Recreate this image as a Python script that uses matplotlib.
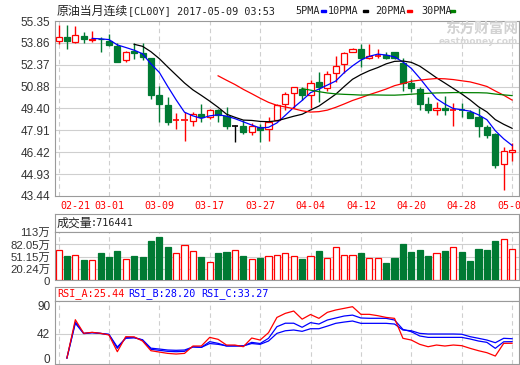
import numpy as np
import pandas as pd
import matplotlib
matplotlib.use('Agg')
from matplotlib import pyplot as plt
from matplotlib.patches import Rectangle

W, H = 520, 365

# daily candles, 2017-02-21 .. 2017-05-08
opens = [53.97, 54.24, 53.94, 54.33, 54.03, 54.15, 54.01, 53.67, 52.68, 53.28,
         53.16, 52.86, 50.28, 49.65, 48.58, 48.62, 48.56, 49.04, 48.85, 49.31,
         48.90, 48.17, 48.22, 47.82, 48.13, 48.00, 48.58, 49.72, 50.44, 50.73,
         50.28, 51.19, 50.82, 51.80, 52.43, 53.22, 53.45, 52.86, 52.97, 53.04,
         53.22, 52.48, 51.12, 50.71, 49.72, 49.26, 49.42, 49.29, 49.32, 49.19,
         48.81, 48.13, 47.68, 45.62, 46.44]
highs = [55.08, 55.08, 55.01, 54.62, 54.67, 54.28, 54.45, 53.84, 53.31, 53.84,
         53.88, 52.86, 50.94, 50.21, 49.08, 49.19, 49.13, 49.72, 49.36, 49.38,
         49.49, 48.29, 48.63, 48.40, 48.34, 48.81, 49.72, 50.55, 50.89, 50.89,
         51.34, 51.87, 51.96, 52.97, 53.27, 53.50, 53.79, 53.79, 53.45, 53.27,
         53.27, 52.82, 51.39, 50.85, 50.21, 49.87, 50.26, 49.76, 49.80, 49.31,
         49.42, 48.29, 47.73, 46.75, 47.05]
lows = [53.77, 53.43, 53.88, 53.84, 53.90, 53.22, 53.67, 52.58, 52.59, 52.75,
        52.70, 50.05, 48.51, 48.29, 48.00, 47.16, 48.22, 48.51, 48.68, 48.51,
        48.00, 47.09, 47.68, 47.61, 47.14, 47.16, 48.55, 49.30, 49.42, 49.99,
        49.46, 49.87, 50.60, 51.19, 51.80, 53.22, 52.25, 52.77, 52.82, 52.75,
        52.77, 50.60, 50.55, 49.26, 49.08, 48.92, 48.97, 48.22, 48.85, 48.74,
        47.43, 47.39, 45.35, 43.83, 45.80]
closes = [54.24, 53.97, 54.40, 54.11, 54.10, 54.10, 53.72, 52.59, 53.23, 53.18,
          52.88, 50.28, 49.69, 48.45, 48.62, 48.66, 49.04, 48.85, 49.31, 48.97,
          48.22, 48.17, 47.77, 48.22, 47.95, 48.47, 49.65, 50.37, 50.89, 50.33,
          51.12, 50.87, 51.73, 52.27, 53.16, 53.45, 52.86, 53.00, 53.00, 52.86,
          52.82, 51.12, 50.82, 49.70, 49.26, 49.42, 49.26, 49.32, 49.28, 48.78,
          48.17, 47.61, 45.57, 46.52, 46.54]

# volume in 万
volumes = [68.2, 53.9, 56.3, 44.3, 44.3, 61.0, 51.5, 66.6, 46.7, 53.9,
           49.9, 90.6, 101.8, 75.4, 60.3, 81.8, 65.8, 51.5, 38.7, 61.0,
           63.4, 68.2, 53.9, 46.7, 49.1, 53.1, 56.3, 60.3, 53.1, 46.7,
           53.1, 65.8, 48.3, 74.6, 55.5, 55.5, 61.0, 48.3, 48.3, 37.1,
           49.1, 82.6, 63.4, 68.2, 53.9, 60.3, 65.8, 74.6, 63.4, 41.9,
           70.6, 68.2, 89.8, 96.2, 71.64]

# RSI from the 2nd candle on
rsi_a = [0, 66, 42.6, 44.3, 42.6, 39.7, 10.9, 36.8, 36.5, 29.3,
         12.6, 10.3, 8.0, 6.9, 8.0, 20.7, 20.7, 35.6, 32.2, 22.4,
         22.4, 19.5, 34.5, 31, 43.7, 70, 77, 81, 67, 75,
         68.4, 78.7, 82.8, 85.6, 88.5, 75.3, 75.3, 73, 70, 68.4,
         34, 31, 23.6, 19.5, 22.4, 20.7, 22.4, 21.3, 16.7, 12.6,
         9.2, 3.4, 25.3, 25.44]
rsi_b = [0, 62, 42.6, 44, 42.6, 40.5, 16.7, 35, 35.5, 31,
         15, 13.3, 11.5, 10.9, 11.5, 19.5, 18.4, 28.2, 25.3, 20.7,
         20.7, 20.7, 27, 25, 34, 54, 60, 60, 53, 61,
         58.6, 65.5, 69, 72.4, 74, 69, 68.5, 68.5, 68.4, 65.5,
         49.4, 45.4, 38, 35.6, 35.6, 35.6, 35.6, 35.6, 32.8, 29.3,
         27, 16.7, 28, 28.20]
rsi_c = [0, 60, 42, 43.5, 42.3, 40.8, 19, 34, 34.8, 31.5,
         17, 15.5, 13.8, 13.3, 13.8, 19, 18.4, 25, 23.6, 21,
         21, 21, 25, 23.6, 29.3, 42.5, 47, 48.3, 46, 50.5,
         50.5, 55, 59.8, 62, 63.8, 59.8, 59.8, 59.8, 59.8, 58.6,
         48.3, 47, 42.5, 41.4, 41.4, 41.4, 41.4, 41, 36.8, 34,
         31, 26.4, 34, 33.27]

date_idx = [0, 6, 12, 18, 24, 30, 36, 42, 48, 54]
date_labels = ['02-21', '03-01', '03-09', '03-17', '03-27',
               '04-04', '04-12', '04-20', '04-28', '05-08']
price_ticks = [55.35, 53.86, 52.37, 50.88, 49.40, 47.91, 46.42, 44.93, 43.44]
vol_ticks = [0, 20.24, 51.15, 82.05, 113]
vol_labels = ['0', '20.24万', '51.15万', '82.05万', '113万']
rsi_ticks = [0, 42, 90]

RED = '#ff0000'
GREEN = '#007a33'
BLUE = '#0000ff'
GRID = '#cfcfcf'
SPINE = '#9a9a9a'
TXT = '#333333'
LABEL_FONT = ['Liberation Sans', 'Noto Sans CJK SC']
MONO = 'DejaVu Sans Mono'
CJK = 'Noto Sans CJK SC'

n = len(closes)
x = np.arange(n)
XL = (-0.42, 54.82)
BW = 0.72
VMIN = -5

fig = plt.figure(figsize=(W / 100, H / 100), dpi=100)
fig.patch.set_facecolor('white')


def box(l, t, r, b):
    return [l / W, 1 - b / H, (r - l) / W, (b - t) / H]


def ftext(px, py, s, **kw):
    kw.setdefault('va', 'center')
    kw.setdefault('ha', 'left')
    fig.text(px / W, 1 - py / H, s, **kw)


def dash(px, py, color):
    fig.patches.append(Rectangle((px / W, 1 - (py + 1) / H), 5 / W, 2 / H,
                                 transform=fig.transFigure, color=color))


def frame(ax):
    for s in ax.spines.values():
        s.set_color(SPINE)
        s.set_linewidth(0.8)
    ax.set_xlim(*XL)
    ax.tick_params(length=0, labelsize=8.5, colors=TXT)
    ax.set_xticks([])
    for d in date_idx:
        ax.axvline(d, color=GRID, lw=0.8, ls=(0, (4, 3)), zorder=0)


# ---- price panel
ax = fig.add_axes(box(55, 21, 519, 196))
frame(ax)
ax.set_ylim(43.44, 55.35)
ax.set_yticks(price_ticks)
ax.set_yticklabels([f'{v:.2f}' for v in price_ticks], family=LABEL_FONT)
for v in price_ticks[1:-1]:
    ax.axhline(v, color=GRID, lw=0.8, zorder=0)

for i in range(n):
    o, h, l, c = opens[i], highs[i], lows[i], closes[i]
    if c > o:
        col = RED
    elif c < o:
        col = GREEN
    else:
        col = 'black'
    top, bot = max(o, c), min(o, c)
    ax.vlines(i, top, h, color=col, lw=1, zorder=3)
    ax.vlines(i, l, bot, color=col, lw=1, zorder=3)
    if top - bot < 0.04:
        ax.hlines(o, i - BW / 2, i + BW / 2, color=col, lw=1.2, zorder=3)
    else:
        face = 'white' if c > o else col
        ax.add_patch(Rectangle((i - BW / 2, bot), BW, top - bot, facecolor=face,
                               edgecolor=col, lw=0.9, zorder=3))

cs = pd.Series(closes)
for per, col in [(5, BLUE), (10, 'black'), (20, RED), (30, '#008000')]:
    ax.plot(x, cs.rolling(per).mean(), color=col, lw=0.9, zorder=4)

for d, lab in zip(date_idx, date_labels):
    if d == 0:
        ax.text(d + 0.2, -0.058, lab, transform=ax.get_xaxis_transform(),
                ha='left', va='center', color=RED, family=MONO, size=7.2)
    else:
        ax.text(d, -0.058, lab, transform=ax.get_xaxis_transform(),
                ha='center', va='center', color=RED, family=MONO, size=7.2)

# watermark
ftext(518, 29, '东方财富网', ha='right', family=CJK, size=10.5, color='#d2d2d2',
      weight='bold')
ftext(518, 41, 'eastmoney.com', ha='right', family='DejaVu Sans', size=6.5,
      color='#d6d6d6', weight='bold')

# ---- volume panel
axh = fig.add_axes(box(55, 214, 519, 232))
for s in axh.spines.values():
    s.set_color(SPINE)
    s.set_linewidth(0.8)
axh.set_xticks([])
axh.set_yticks([])

axv = fig.add_axes(box(55, 232, 519, 279.5))
frame(axv)
axv.set_ylim(VMIN, 113)
axv.set_yticks(vol_ticks)
axv.set_yticklabels(vol_labels, family=LABEL_FONT, size=8.2)
axv.get_yticklabels()[0].set_va('top')
for v in vol_ticks[1:-1]:
    axv.axhline(v, color=GRID, lw=0.8, zorder=0)
vcol = [RED if closes[i] >= opens[i] else GREEN for i in range(n)]
vface = ['white' if c == RED else c for c in vcol]
axv.bar(x, np.array(volumes) - VMIN, bottom=VMIN, width=BW, color=vface,
        edgecolor=vcol, lw=0.9, zorder=3)

# ---- RSI panel
axr_h = fig.add_axes(box(55, 287, 519, 301))
for s in axr_h.spines.values():
    s.set_color(SPINE)
    s.set_linewidth(0.8)
axr_h.set_xticks([])
axr_h.set_yticks([])

axr = fig.add_axes(box(55, 301, 519, 364))
frame(axr)
axr.set_ylim(-10.3, 98.3)
axr.set_yticks(rsi_ticks)
axr.set_yticklabels([str(v) for v in rsi_ticks], family=LABEL_FONT)
axr.axhline(42, color=GRID, lw=0.8, zorder=0)
xr = x[1:]
axr.plot(xr, rsi_c, color=BLUE, lw=0.9, zorder=3)
axr.plot(xr, rsi_b, color=BLUE, lw=0.9, zorder=3)
axr.plot(xr, rsi_a, color=RED, lw=0.9, zorder=4)

# ---- header texts
ftext(57, 11, '原油当月连续', family=CJK, size=8.6, color='#222222')
ftext(128, 11, '[CL00Y] 2017-05-09 03:53', family=MONO, size=7.3, color='#222222')
for px, lab, dx, col in [(295, '5PMA', 321, BLUE), (328, '10PMA', 363, 'black'),
                         (375, '20PMA', 407, RED), (421, '30PMA', 450, '#008000')]:
    ftext(px, 11, lab, family=MONO, size=7.3, color='#222222')
    dash(dx, 11, col)

ftext(57, 223, '成交量', family=CJK, size=8.6, color='#222222')
ftext(91, 223, ':716441', family=MONO, size=7.3, color='#222222')

ftext(57, 294, 'RSI_A:25.44', family=MONO, size=7.3, color=RED)
ftext(128, 294, 'RSI_B:28.20', family=MONO, size=7.3, color=BLUE)
ftext(201, 294, 'RSI_C:33.27', family=MONO, size=7.3, color=BLUE)

fig.savefig('out.png', dpi=100)
